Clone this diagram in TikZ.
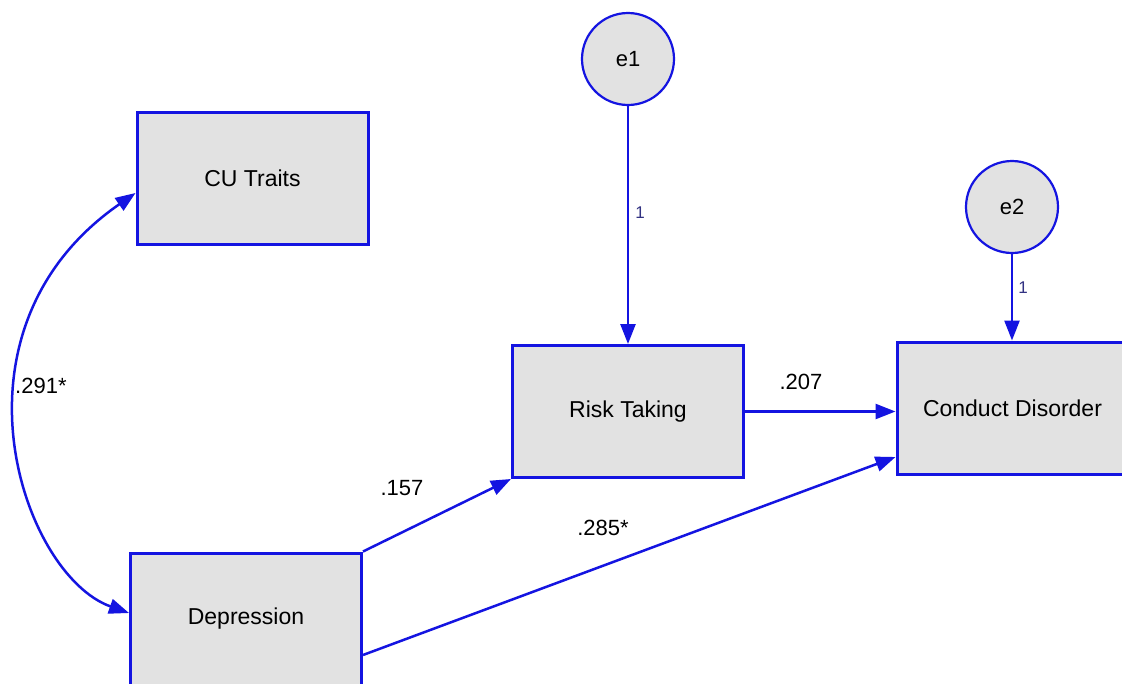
\documentclass[tikz,border=0pt]{standalone}
\usepackage{fontspec}
\setmainfont{Liberation Sans}
\usetikzlibrary{arrows.meta}
\definecolor{pathblue}{RGB}{20,20,225}
\definecolor{boxfill}{RGB}{226,226,226}
\definecolor{onecol}{RGB}{50,50,130}
\begin{document}
\begin{tikzpicture}[x=1pt,y=-1pt,
  obs/.style={draw=pathblue,line width=3pt,fill=boxfill,minimum width=231pt,minimum height=132pt,inner sep=0pt,font=\fontsize{23}{27}\selectfont},
  err/.style={circle,draw=pathblue,line width=2.2pt,fill=boxfill,minimum size=92pt,inner sep=0pt,font=\fontsize{22}{26}\selectfont},
  conn/.style={draw=pathblue,line width=2.5pt,-{Triangle[length=20pt,width=15pt]}},
  biconn/.style={draw=pathblue,line width=2.5pt,{Triangle[length=20pt,width=15pt]}-{Triangle[length=20pt,width=15pt]}},
  lbl/.style={font=\fontsize{22}{26}\selectfont,inner sep=0pt},
  onelbl/.style={font=\fontsize{17}{20}\selectfont,text=onecol,inner sep=0pt}]
\useasboundingbox[fill=white] (0,0) rectangle (1122,683);
% nodes
\node[obs] (CU) at (252.5,178) {CU Traits};
\node[obs] (Dep) at (246,619) {Depression};
\node[obs] (RT) at (628,411.5) {Risk Taking};
\node[obs] (CD) at (1012.5,408) {Conduct Disorder};
\node[err] (e1) at (628,59) {e1};
\node[err] (e2) at (1012,207) {e2};
% connectors
\draw[conn] (e1.south) -- (RT.north);
\draw[conn] (e2.south) -- (e2.south |- CD.north);
\draw[conn] (RT.east) -- (CD.west |- RT.east);
\draw[conn] (Dep.north east) -- (RT.south west);
\draw[conn] ([yshift=-36pt]Dep.east) -- ([yshift=-49pt]CD.west);
\draw[biconn] ([yshift=-15pt]CU.west) .. controls (-62,330) and (22,575) .. ([yshift=6pt]Dep.west);
% labels
\node[lbl,anchor=west] (l291) at (15,386) {.291*};
\node[lbl] (l157) at (402,488) {.157};
\node[lbl] (l285) at (603,528) {.285*};
\node[lbl] (l207) at (801,382) {.207};
\node[onelbl] (l1a) at (640,213) {1};
\node[onelbl] (l1b) at (1023,288) {1};
\end{tikzpicture}
\end{document}
